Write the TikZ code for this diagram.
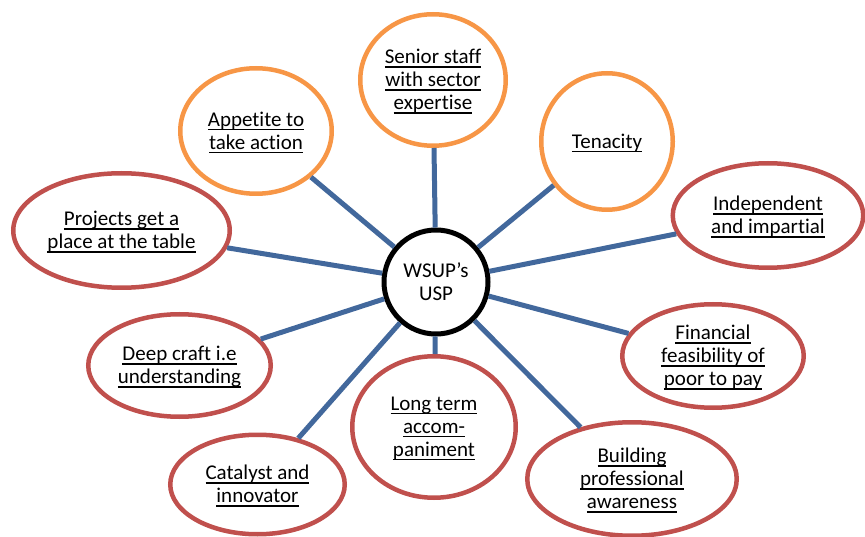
\documentclass[tikz,border=0pt]{standalone}
\usepackage{fontspec}
\setmainfont[Ligatures=NoCommon]{Carlito}
\usetikzlibrary{shapes.geometric}

\definecolor{ringorange}{RGB}{247,150,70}
\definecolor{ringred}{RGB}{192,80,77}
\definecolor{spokeblue}{RGB}{66,104,156}

% underline each line at a fixed distance below the baseline
\newsavebox\ulinebox
\newcommand\uline[1]{\sbox\ulinebox{#1}\rlap{\rule[-3.6pt]{\wd\ulinebox}{1.1pt}}\usebox\ulinebox}

\tikzset{
  ring/.style={ellipse, draw, line width=4.5pt, fill=white, inner sep=0pt},
  orangering/.style={ring, draw=ringorange},
  redring/.style={ring, draw=ringred},
  hub/.style={circle, draw=black, line width=5pt, fill=white, inner sep=0pt,
    minimum size=104pt, align=center, font=\fontsize{21}{23}\selectfont},
  caption/.style={align=center, inner sep=0pt, font=\fontsize{21}{23}\selectfont},
  spoke/.style={draw=spokeblue, line width=5pt},
}

\begin{document}
\begin{tikzpicture}[x=1pt,y=-1pt]
\useasboundingbox (0,0) rectangle (865,537);

% outer rings
\node[orangering, minimum width=151.5pt, minimum height=125.5pt] (appetite) at (256,131) {};
\node[orangering, minimum width=145.5pt, minimum height=131.5pt] (senior) at (433,80) {};
\node[orangering, minimum width=131.5pt, minimum height=136.5pt] (tenacity) at (607,141.5) {};
\node[redring, minimum width=190.5pt, minimum height=104.5pt] (independent) at (768,215.5) {};
\node[redring, minimum width=216.5pt, minimum height=114.5pt] (projects) at (121.5,230.5) {};
\node[redring, minimum width=182.5pt, minimum height=102.5pt] (deep) at (179.5,365.5) {};
\node[redring, minimum width=174.5pt, minimum height=99.5pt] (catalyst) at (257.5,484.5) {};
\node[redring, minimum width=163.5pt, minimum height=141.5pt] (longterm) at (434,427) {};
\node[redring, minimum width=181.5pt, minimum height=103.5pt] (financial) at (713,356) {};
\node[redring, minimum width=209.5pt, minimum height=113.5pt] (building) at (632,479) {};

% hub
\node[hub] (hub) at (436,282) {WSUP’s\\USP};

% spokes
\foreach \n in {appetite,senior,tenacity,independent,projects,deep,catalyst,longterm,financial,building}
  \draw[spoke] (hub) -- (\n);

% captions, set slightly below each ring's centre
\tikzset{caption shift/.style={yshift=-1.5pt}}
\node[caption] (appetite-t) at ([caption shift]appetite) {\uline{Appetite to}\\\uline{take action}};
\node[caption] (senior-t) at ([caption shift]senior) {\uline{Senior staff}\\\uline{with sector}\\\uline{expertise}};
\node[caption] (tenacity-t) at ([caption shift]tenacity) {\uline{Tenacity}};
\node[caption] (independent-t) at ([caption shift]independent) {\uline{Independent}\\\uline{and impartial}};
\node[caption] (projects-t) at ([caption shift]projects) {\uline{Projects get a}\\\uline{place at the table}};
\node[caption] (deep-t) at ([caption shift]deep) {\uline{Deep craft i.e}\\\uline{understanding}};
\node[caption] (catalyst-t) at ([caption shift]catalyst) {\uline{Catalyst and}\\\uline{innovator}};
\node[caption] (longterm-t) at ([caption shift]longterm) {\uline{Long term}\\\uline{accom-}\\\uline{paniment}};
\node[caption] (financial-t) at ([caption shift]financial) {\uline{Financial}\\\uline{feasibility of}\\\uline{poor to pay}};
\node[caption] (building-t) at ([caption shift]building) {\uline{Building}\\\uline{professional}\\\uline{awareness}};
\end{tikzpicture}
\end{document}
